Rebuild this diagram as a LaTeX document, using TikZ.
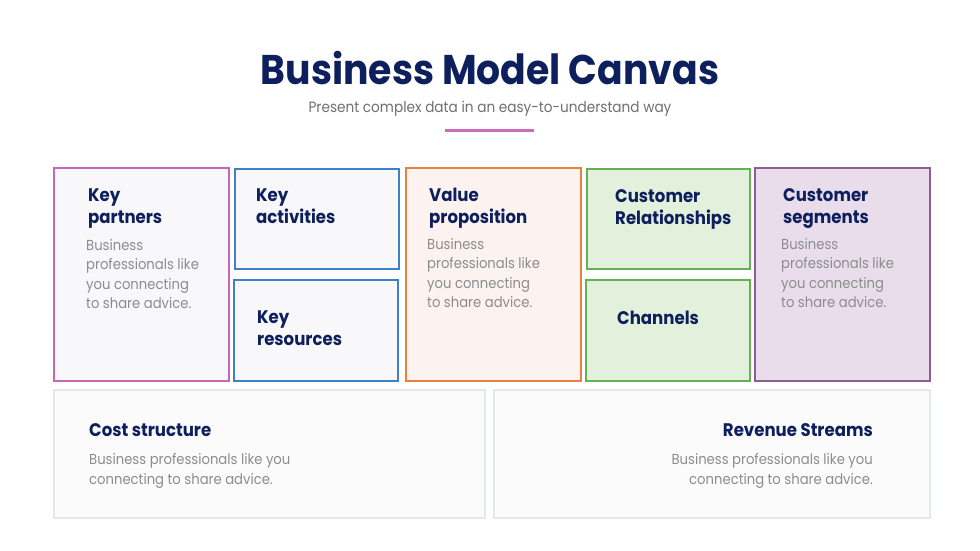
\documentclass[tikz,border=0pt]{standalone}
\usepackage{fontspec}
\setmainfont{Poppins}[FakeStretch=0.91]
\definecolor{navy}{HTML}{0D1F5C}
\definecolor{bodygray}{HTML}{8C8C8C}
\definecolor{subgray}{HTML}{707070}
\definecolor{cpink}{HTML}{C866B8}
\definecolor{cblue}{HTML}{3F7FCB}
\definecolor{corange}{HTML}{E8813F}
\definecolor{cgreen}{HTML}{63B152}
\definecolor{cpurple}{HTML}{8E5C98}
\definecolor{fgray}{HTML}{F8F8FA}
\definecolor{forange}{HTML}{FCF3F0}
\definecolor{fgreen}{HTML}{E3F1DC}
\definecolor{fpurple}{HTML}{E9DDEC}
\definecolor{fbottom}{HTML}{FBFBFC}
\definecolor{bbottom}{HTML}{E2E8EE}
\definecolor{linepink}{HTML}{C86DB9}
\tikzset{
  cell/.style={draw, line width=2.8pt, inner sep=0pt, outer sep=0pt},
  head/.style={anchor=north west, inner sep=0pt, align=left, text=navy, font=\fontsize{18.2}{22}\selectfont\bfseries},
  body/.style={anchor=north west, inner sep=0pt, align=left, text=bodygray, font=\fontsize{14.5}{19.5}\selectfont},
}
\newcommand{\cellbox}[6]{% name, x1, y1, x2, y2, style
  \node[cell, #6, minimum width={(#4-#2)*1pt}, minimum height={(#5-#3)*1pt}, anchor=north west] (#1) at (#2,#3) {};}
\begin{document}
\begin{tikzpicture}[x=1pt,y=-1pt]
\fill[white] (0,0) rectangle (980,551);
\useasboundingbox (0,0) rectangle (980,551);
% title
\node[inner sep=0pt, text=navy, font=\fontsize{41.5}{44}\selectfont\bfseries] (title) at (490,68) {Business Model Canvas};
\node[inner sep=0pt, text=subgray, font=\fontsize{15}{18}\selectfont] (sub) at (490,109) {Present complex data in an easy-to-understand way};
\coordinate (l1) at (445,130);
\coordinate (l2) at (534,130);
\draw[linepink, line width=3pt] (l1) -- (l2);
% boxes
\cellbox{kp}{54}{168}{229}{381}{draw=cpink, fill=fgray}
\cellbox{ka}{235}{169}{399}{269}{draw=cblue, fill=fgray}
\cellbox{kr}{234}{280}{398}{381}{draw=cblue, fill=fgray}
\cellbox{vp}{406}{168}{581}{381}{draw=corange, fill=forange}
\cellbox{cr}{587}{169}{750}{269}{draw=cgreen, fill=fgreen}
\cellbox{ch}{586}{280}{750}{381}{draw=cgreen, fill=fgreen}
\cellbox{cs}{755}{168}{930}{381}{draw=cpurple, fill=fpurple}
\cellbox{cost}{54}{390}{485}{518}{draw=bbottom, fill=fbottom}
\cellbox{rev}{494}{390}{930}{518}{draw=bbottom, fill=fbottom}
% headings
\node[head] (kph) at (88,189) {Key\\partners};
\node[body] (kpb) at (86,239) {Business\\professionals like\\you connecting\\to share advice.};
\node[head] (kah) at (256,189) {Key\\activities};
\node[head] (krh) at (257,311) {Key\\resources};
\node[head] (vph) at (429,188) {Value\\proposition};
\node[body] (vpb) at (427,238) {Business\\professionals like\\you connecting\\to share advice.};
\node[head] (crh) at (615,189) {Customer\\Relationships};
\node[head] (chh) at (617,311) {Channels};
\node[head] (csh) at (783,188) {Customer\\segments};
\node[body] (csb) at (781,238) {Business\\professionals like\\you connecting\\to share advice.};
\node[head] (costh) at (89,423) {Cost structure};
\node[body, font=\fontsize{14.5}{20}\selectfont] (costb) at (89,453) {Business professionals like you\\connecting to share advice.};
\node[head, anchor=north east, align=right] (revh) at (873,423) {Revenue Streams};
\node[body, anchor=north east, align=right, font=\fontsize{14.5}{20}\selectfont] (revb) at (873,453) {Business professionals like you\\connecting to share advice.};
\end{tikzpicture}
\end{document}
